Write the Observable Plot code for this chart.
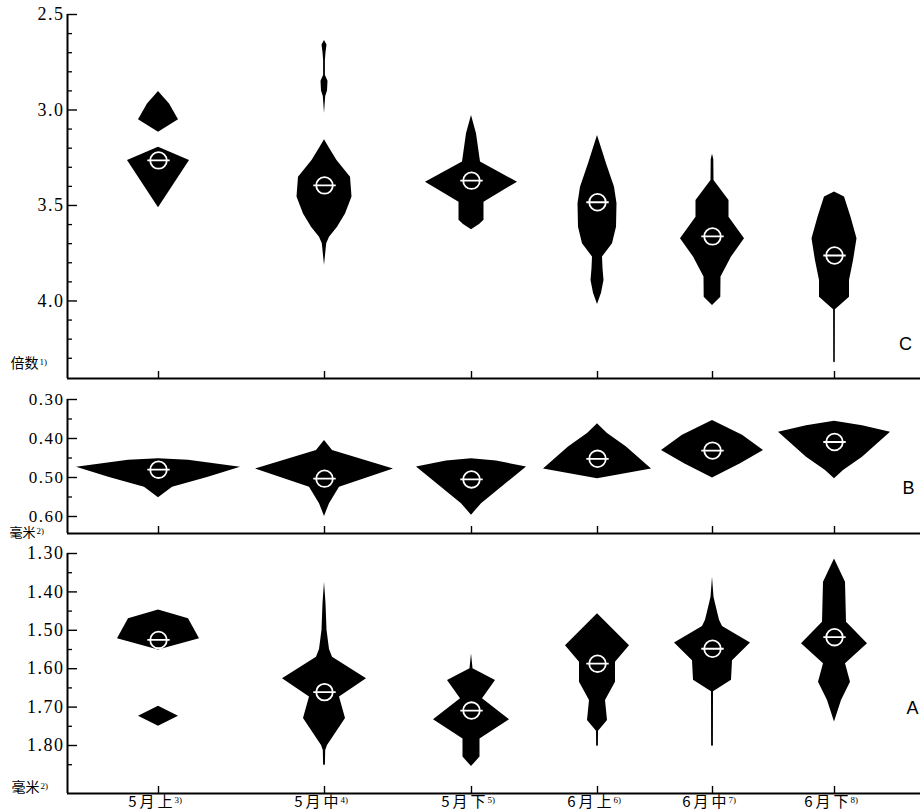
<!DOCTYPE html>
<html><head><meta charset="utf-8">
<script src="https://cdn.jsdelivr.net/npm/d3@7"></script>
<script src="https://cdn.jsdelivr.net/npm/@observablehq/plot@0.6"></script>
<style>
body{margin:0;background:#fff;}
#chart svg{display:block;}
</style></head><body><div id="chart"></div>
<script>
// ---------------- data ----------------
const periods = ["5月上", "5月中", "5月下", "6月上", "6月中", "6月下"];
const periodNotes = ["3)", "4)", "5)", "6)", "7)", "8)"];

// Kite profiles: [period index, [[value, half-frequency], ...]] (one entry per separate piece)
// C: 倍数 (ratio)
const kiteC = [
  [0, [[2.903,0],[2.968,11],[3.051,20],[3.116,0]]],
  [0, [[3.195,0],[3.264,31],[3.512,0]]],
  [1, [[2.636,0],[2.66,2.5],[2.70,1.5],[2.74,0.9],[2.82,0.9],[2.85,3.5],[2.90,3],[2.93,1.2],[3.018,0]]],
  [1, [[3.156,0],[3.2,5],[3.264,12.5],[3.352,26],[3.456,27.5],[3.544,21],[3.614,13],[3.666,5],[3.70,2.2],[3.814,0]]],
  [2, [[3.029,0],[3.125,5],[3.273,9],[3.378,46],[3.483,12.5],[3.578,12.5],[3.60,8],[3.627,0]]],
  [3, [[3.134,0],[3.282,9],[3.404,17],[3.491,19.5],[3.614,19],[3.70,15],[3.77,5],[3.83,5.5],[3.893,6.5],[3.96,4],[4.018,0]]],
  [4, [[3.23,0],[3.26,1.3],[3.369,1.5],[3.474,16.5],[3.561,16.5],[3.674,32],[3.77,19],[3.875,8.5],[3.98,8.3],[4.024,0]]],
  [5, [[3.43,0],[3.456,10],[3.561,16.5],[3.674,22.5],[3.79,19],[3.893,15],[3.98,15],[4.046,0.9],[4.32,0.8],[4.325,0]]]
];
const meanC = [3.264, 3.395, 3.370, 3.483, 3.662, 3.762];
const ticksC = [2.5, 3.0, 3.5, 4.0];
const minorC = [2.6,2.7,2.8,2.9,3.1,3.2,3.3,3.4,3.6,3.7,3.8,3.9,4.1,4.2,4.3];

// B: 毫米
const kiteB = [
  [0, [[0.452,0],[0.456,30],[0.4735,82],[0.50,49],[0.525,14],[0.552,0]]],
  [1, [[0.405,0],[0.431,8],[0.478,69],[0.525,15],[0.567,5],[0.60,0]]],
  [2, [[0.452,0],[0.458,25],[0.473,55],[0.567,10],[0.597,0]]],
  [3, [[0.362,0],[0.37,3],[0.387,10],[0.422,29],[0.478,54],[0.503,0]]],
  [4, [[0.354,0],[0.3915,30],[0.431,51],[0.465,28],[0.501,0]]],
  [5, [[0.356,0],[0.367,28],[0.384,56],[0.448,28],[0.482,9],[0.503,0]]]
];
const meanB = [0.480, 0.503, 0.505, 0.452, 0.431, 0.409];
const ticksB = [0.30, 0.40, 0.50, 0.60];
const minorB = [0.35, 0.45, 0.55];

// A: 毫米
const kiteA = [
  [0, [[1.447,0],[1.47,30],[1.522,41],[1.551,0]]],
  [0, [[1.698,0],[1.724,20],[1.75,0]]],
  [1, [[1.375,0],[1.43,1.5],[1.50,2.5],[1.55,5],[1.57,8],[1.626,42],[1.674,15],[1.73,21],[1.80,3],[1.813,1.2],[1.85,0.9],[1.853,0]]],
  [2, [[1.561,0],[1.60,1.5],[1.631,24],[1.678,11],[1.733,38],[1.783,8.5],[1.83,8.5],[1.855,0]]],
  [3, [[1.457,0],[1.54,32],[1.583,18],[1.635,18],[1.683,8],[1.735,10],[1.763,1],[1.80,0.9],[1.803,0]]],
  [4, [[1.362,0],[1.414,1.5],[1.431,3],[1.474,7],[1.49,10],[1.533,38],[1.579,20],[1.63,19],[1.66,1],[1.80,0.9],[1.803,0]]],
  [5, [[1.314,0],[1.375,11],[1.479,12],[1.535,33],[1.587,11],[1.635,16],[1.683,7],[1.739,0]]]
];
const meanA = [1.525, 1.661, 1.709, 1.587, 1.548, 1.518];
const ticksA = [1.30, 1.40, 1.50, 1.60, 1.70, 1.80];
const minorA = [1.35, 1.45, 1.55, 1.65, 1.75, 1.85];

// ---------------- layout ----------------
const W = 923;
const xSpan = 853;                                  // horizontal chart units
const slot = [91, 257, 404, 530, 645, 767];         // period centres along the x axis
const cjk = "'Noto Sans CJK SC', sans-serif";
const serif = "'Liberation Serif', serif";

const theta = {
  draw(ctx, size) {
    const r = Math.sqrt(size / Math.PI);
    ctx.moveTo(r, 0);
    ctx.arc(0, 0, r, 0, 2 * Math.PI);
    ctx.moveTo(-1.35 * r, 0);
    ctx.lineTo(1.35 * r, 0);
  }
};

function panel(o) {
  const rows = o.kites.flatMap(([p, prof], k) => prof.map(([v, w]) => ({k, p, v, w})));
  const uf = o.unitFont || 14;
  const marks = [
    Plot.areaX(rows, {y: "v", x1: d => slot[d.p] - d.w, x2: d => slot[d.p] + d.w, z: "k", fill: "black", curve: "linear"}),
    Plot.dot(o.means, {x: (d, i) => slot[i], y: d => d, r: 8.3, symbol: theta, stroke: "white", strokeWidth: 1.8, fill: "none"}),
    Plot.ruleX([0], {stroke: "black", strokeWidth: 2}),
    Plot.ruleY([o.domain[1]], {stroke: "black", strokeWidth: 2}),
    Plot.axisY({ticks: o.major, tickSize: 10, dx: 10, fill: "none", stroke: "black", strokeWidth: 1.4, label: null}),
    Plot.axisY({ticks: o.minor, tickSize: 5, dx: 5, fill: "none", stroke: "black", strokeWidth: 1.3, label: null}),
    Plot.axisY({ticks: o.major, tickSize: 0, tickPadding: 3, tickFormat: o.fmt, fill: "black", fontSize: o.tickFont || 18, fontFamily: serif, label: null}),
    Plot.axisX({ticks: slot, tickSize: 7, dy: -7, fill: "none", stroke: "black", strokeWidth: 1.4, label: null}),
    Plot.text([o.unit], {text: d => d, frameAnchor: "bottom-left", dx: o.unitDx, dy: o.unitDy, textAnchor: "start", fontSize: uf, fontFamily: cjk, fill: "black"}),
    Plot.text([o.unitNote], {text: d => d, frameAnchor: "bottom-left", dx: o.unitDx + 2 * uf + 1, dy: o.unitDy - 3, textAnchor: "start", fontSize: 9, fontFamily: serif, fill: "black"}),
    Plot.text([o.letter], {text: d => d, frameAnchor: "bottom-right", dx: o.letterDx, dy: o.letterDy, textAnchor: "middle", fontSize: 18, fontFamily: "'Liberation Sans', sans-serif", fill: "black"})
  ];
  if (o.xLabels) {
    marks.push(
      Plot.text(periods, {x: (d, i) => slot[i], text: d => d, frameAnchor: "bottom", dy: 13, dx: 17, textAnchor: "end", fontSize: 15, fontFamily: cjk, fill: "black"}),
      Plot.text(periodNotes, {x: (d, i) => slot[i], text: d => d, frameAnchor: "bottom", dy: 9, dx: 16, textAnchor: "start", fontSize: 9, fontFamily: serif, fill: "black"})
    );
  }
  const svg = Plot.plot({
    width: W,
    height: o.height,
    marginLeft: 67,
    marginRight: 3,
    marginTop: o.mt,
    marginBottom: o.mb,
    style: {background: "transparent", overflow: "visible", fontFamily: serif, color: "black"},
    x: {type: "linear", domain: [0, xSpan], axis: null},
    y: {type: "linear", domain: o.domain, reverse: true, axis: null},
    marks
  });
  d3.select(svg).selectAll("text").each(function () {
    const t = this.textContent;
    if (/^\d\.\d+$/.test(t)) this.setAttribute("letter-spacing", "1.5");
    if (periods.includes(t)) this.setAttribute("letter-spacing", "3");
  });
  return svg;
}

const root = document.getElementById("chart");
root.append(panel({
  kites: kiteC, means: meanC, domain: [2.5, 4.406], major: ticksC, minor: minorC, fmt: d3.format(".1f"),
  height: 382, mt: 14, mb: 4, unit: "倍数", unitNote: "1)", unitDx: -57, unitDy: -11,
  letter: "C", letterDx: -15, letterDy: -29
}));
root.append(panel({
  kites: kiteB, means: meanB, domain: [0.30, 0.6436], major: ticksB, minor: minorB, fmt: d3.format(".2f"),
  height: 159, mt: 17, mb: 8, unit: "毫米", unitNote: "2)", unitDx: -58, unitDy: 3, unitFont: 13, tickFont: 17,
  letter: "B", letterDx: -12, letterDy: -40
}));
root.append(panel({
  kites: kiteA, means: meanA, domain: [1.30, 1.925], major: ticksA, minor: minorA, fmt: d3.format(".2f"),
  height: 270, mt: 12, mb: 18, unit: "毫米", unitNote: "2)", unitDx: -56, unitDy: -2,
  letter: "A", letterDx: -8, letterDy: -80, xLabels: true
}));
</script>
</body></html>
